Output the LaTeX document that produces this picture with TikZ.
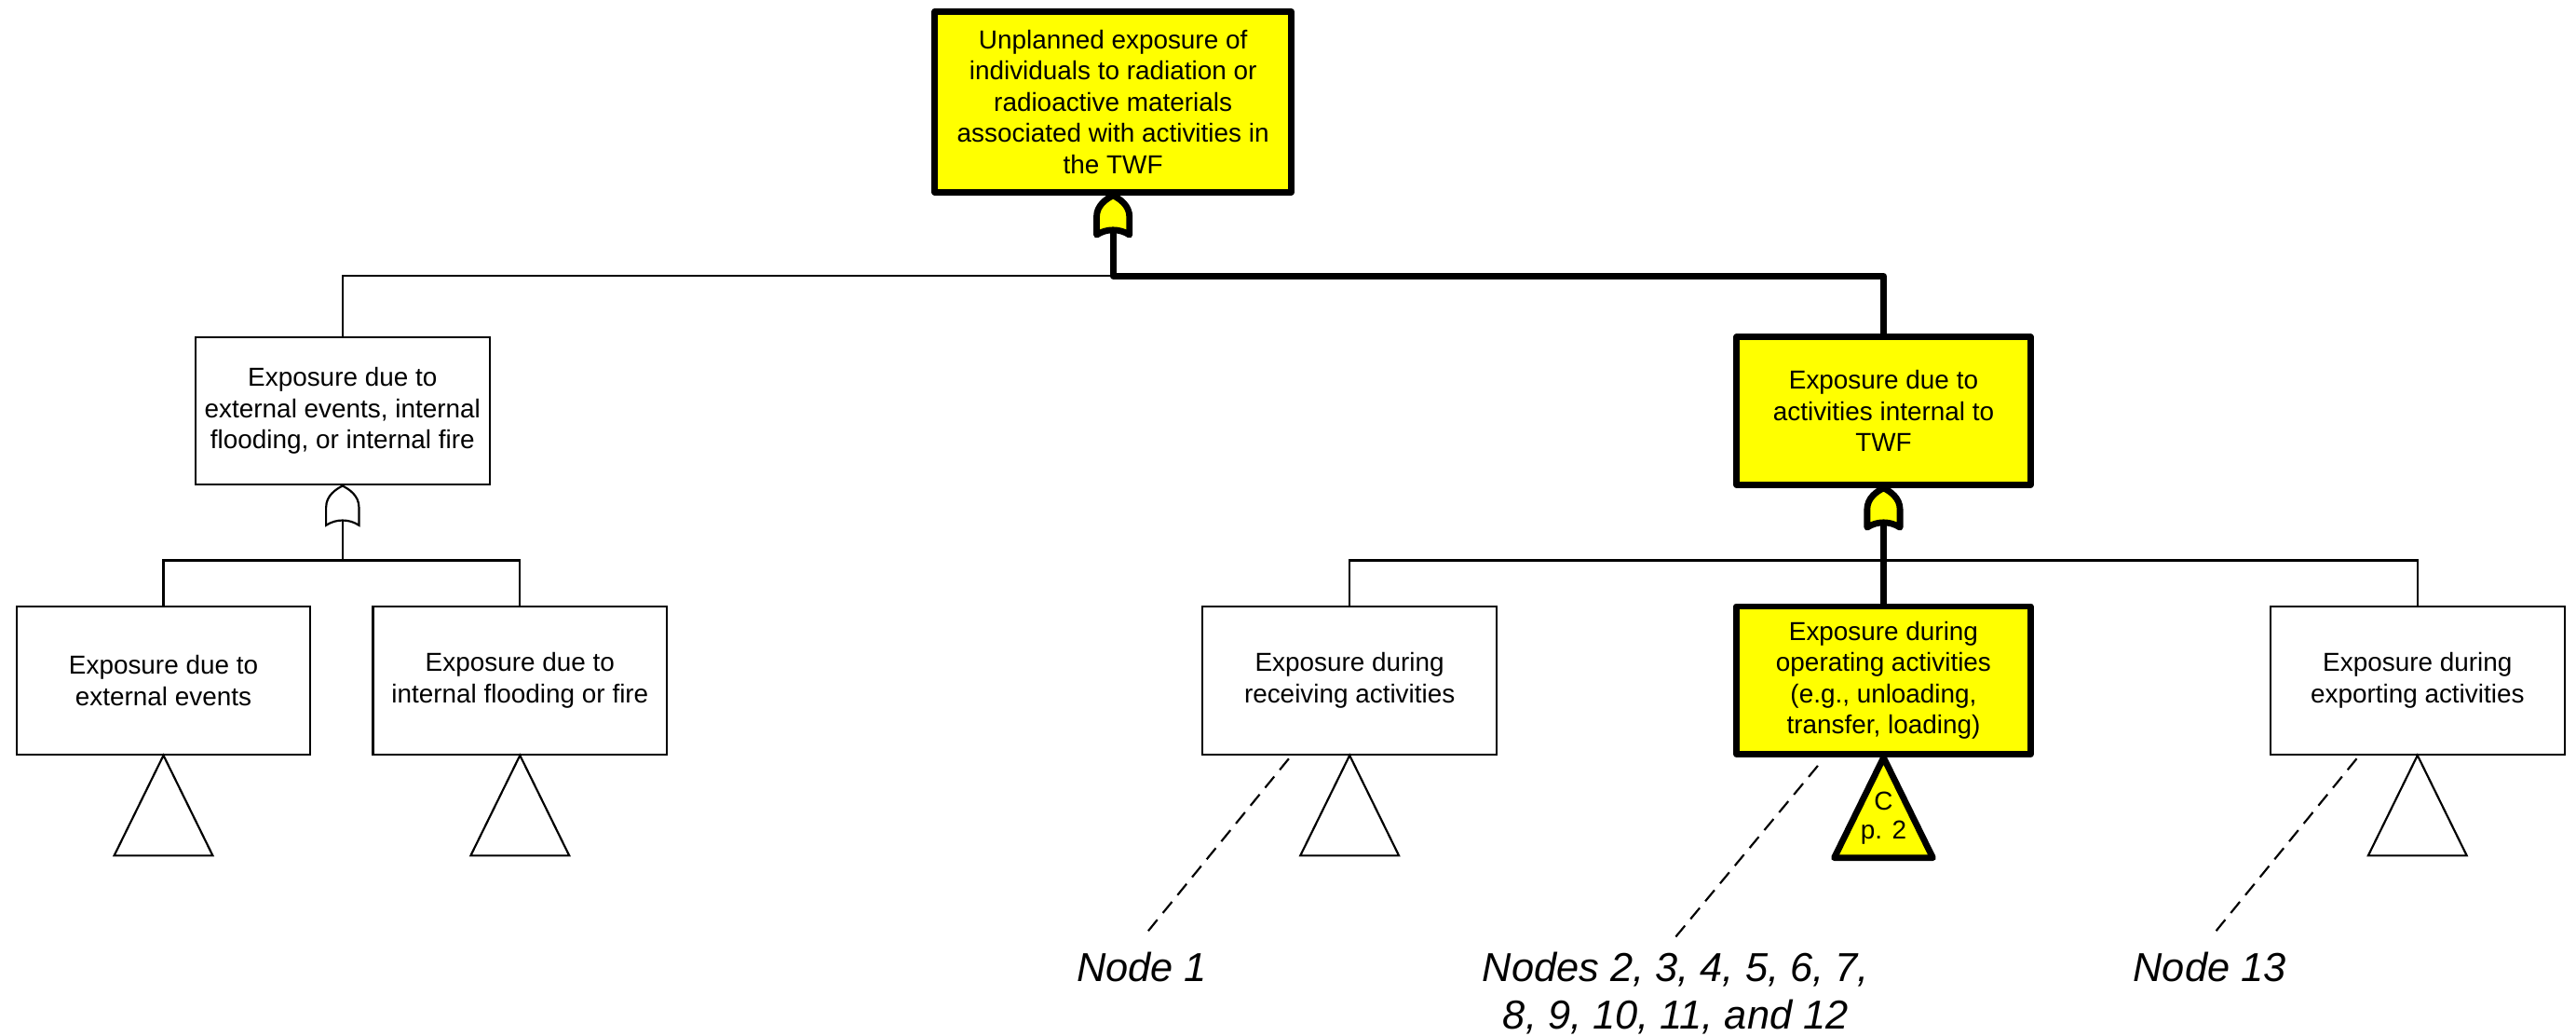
\documentclass[tikz,border=0pt]{standalone}
\usepackage{fontspec}
\setmainfont{Liberation Sans}
\usetikzlibrary{calc}
\definecolor{hilite}{RGB}{255,255,0}
\tikzset{
  wire/.style={line width=0.7pt},
  hotwire/.style={line width=2.2pt, line join=round},
  evbox/.style={draw, wire, minimum width=3.58cm, minimum height=1.8cm,
    align=center, inner sep=0pt, font=\fontsize{9}{10.8}\selectfont},
  keybox/.style={evbox, fill=hilite, hotwire},
  topbox/.style={keybox, minimum width=4.34cm, minimum height=2.2cm},
  lbl/.style={inner sep=0pt, anchor=north, align=center,
    font=\fontsize{14}{16.5}\selectfont\itshape},
  dashline/.style={wire, dash pattern=on 5pt off 3pt},
  orgate/.pic={
    \path[pic actions] (-10,24) -- (-10,13) .. controls (-10,6) and (-4,2) .. (0,0)
      .. controls (4,2) and (10,6) .. (10,13) -- (10,24)
      .. controls (4,20) and (-4,20) .. (-10,24) -- cycle;
    \coordinate (-out) at (0,21);
  }
}
\begin{document}
\begin{tikzpicture}[x=0.02cm, y=-0.02cm]
\useasboundingbox (0,0) rectangle (1568,630);

% event boxes
\node[topbox] (top) at (677.5,62) {Unplanned exposure of\\individuals to radiation or\\radioactive materials\\associated with activities in\\the TWF};
\node[evbox]  (lmid) at (208.5,250) {Exposure due to\\external events, internal\\flooding, or internal fire};
\node[keybox] (rmid) at (1146.5,250) {Exposure due to\\activities internal to\\TWF};
\node[evbox]  (b1) at (99.5,414) {Exposure due to\\external events};
\node[evbox]  (b2) at (316.5,414) {Exposure due to\\internal flooding or fire};
\node[evbox]  (b3) at (821.5,414) {Exposure during\\receiving activities};
\node[keybox] (b4) at (1146.5,414) {Exposure during\\operating activities\\(e.g., unloading,\\transfer, loading)};
\node[evbox]  (b5) at (1471.5,414) {Exposure during\\exporting activities};

% OR gates
\pic[draw, fill=hilite, hotwire] (g0) at (top.south) {orgate};
\pic[draw, fill=white, wire] (g1) at (lmid.south) {orgate};
\pic[draw, fill=hilite, hotwire] (g2) at (rmid.south) {orgate};

% horizontal bus levels
\coordinate (bar0) at (0,168);
\coordinate (bar1) at (0,341);

% top level connectors
\draw[wire] (lmid.north) -- (lmid.north |- bar0) -- (g0-out |- bar0);
\draw[hotwire] (g0-out) -- (g0-out |- bar0) -| (rmid.north);

% left branch
\draw[wire] (g1-out) -- (g1-out |- bar1);
\draw[wire] (b1.north) -- (b1.north |- bar1) -- (b2.north |- bar1) -- (b2.north);

% right branch
\draw[wire] (b3.north) -- (b3.north |- bar1) -- (b5.north |- bar1) -- (b5.north);
\draw[hotwire] (g2-out) -- (b4.north);

% transfer triangles
\draw[wire, fill=white] (b1.south) -- ++(30,61) -- ++(-60,0) -- cycle;
\draw[wire, fill=white] (b2.south) -- ++(30,61) -- ++(-60,0) -- cycle;
\draw[wire, fill=white] (b3.south) -- ++(30,61) -- ++(-60,0) -- cycle;
\draw[hotwire, fill=hilite] (b4.south) -- ++(30,61) -- ++(-60,0) -- cycle;
\draw[wire, fill=white] (b5.south) -- ++(30,61) -- ++(-60,0) -- cycle;
\node[align=center, inner sep=0pt, font=\fontsize{9}{10}\selectfont] (t4) at ($(b4.south)+(0,37)$) {C\\p. 2};

% node references
\node[lbl] (n1) at (695,579) {Node 1};
\node[lbl] (n2) at (1020,579) {Nodes 2, 3, 4, 5, 6, 7,\\8, 9, 10, 11, and 12};
\node[lbl] (n13) at (1345,579) {Node 13};

\draw[dashline] ($(b3.south)+(-37,2)$) -- ($(n1.north)+(1,-9)$);
\draw[dashline] ($(b4.south)+(-40,5)$) -- ($(n2.north)+(0,-9)$);
\draw[dashline] ($(b5.south)+(-37,2)$) -- ($(n13.north)+(1,-9)$);
\end{tikzpicture}
\end{document}
